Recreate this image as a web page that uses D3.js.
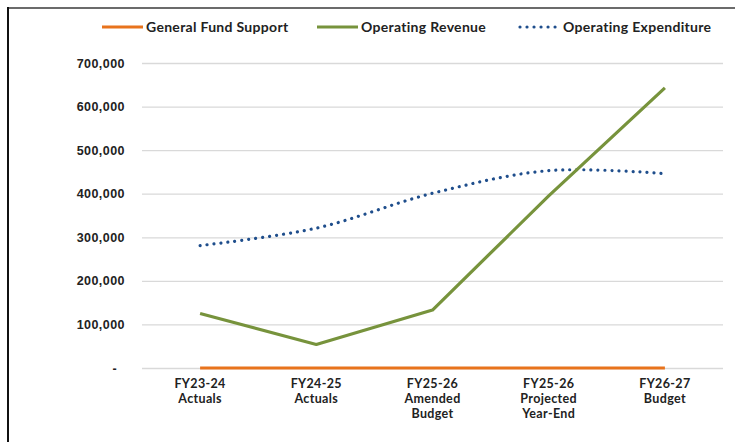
<!DOCTYPE html>
<html>
<head>
<meta charset="utf-8">
<script src="https://cdn.jsdelivr.net/npm/d3@7"></script>
<style>
  body { margin: 0; background: #fff; }
  svg { display: block; font-family: Lato, "Open Sans", sans-serif; font-weight: 700; }
</style>
</head>
<body>
<svg id="chart" width="735" height="442"></svg>
<script>
// data
let categories = [
  ['FY23-24', 'Actuals'],
  ['FY24-25', 'Actuals'],
  ['FY25-26', 'Amended', 'Budget'],
  ['FY25-26', 'Projected', 'Year-End'],
  ['FY26-27', 'Budget']
];
let generalFund = [0, 0, 0, 0, 0];
let operatingRevenue = [125000, 54000, 133000, 395000, 643000];
let operatingExpenditure = [281000, 321000, 401000, 453000, 446000];
let yTicks = [0, 100000, 200000, 300000, 400000, 500000, 600000, 700000];

let seriesNames = ['General Fund Support', 'Operating Revenue', 'Operating Expenditure'];
let colors = ['#E8731C', '#77933C', '#1F4E8C'];

let svg = d3.select('#chart');

// frame
svg.append('line').attr('x1', 8).attr('x2', 735).attr('y1', 8).attr('y2', 8)
  .attr('stroke', '#6b6b6b').attr('stroke-width', 2);
svg.append('line').attr('x1', 8).attr('x2', 8).attr('y1', 7).attr('y2', 442)
  .attr('stroke', '#111').attr('stroke-width', 2);

let keys = categories.map(function(d, i) { return 'c' + i; });

let xScale = d3.scaleBand()
  .domain(keys)
  .range([142, 723]);

let yScale = d3.scaleLinear()
  .domain([0, 700000])
  .range([368, 63]);

let xPos = function(i) { return xScale(keys[i]) + xScale.bandwidth() / 2; };

// gridlines + y labels
let yAxis = d3.axisLeft(yScale)
  .tickValues(yTicks)
  .tickSize(-(723 - 142))
  .tickPadding(17)
  .tickFormat(function(d) { return d === 0 ? '-' : d3.format(',')(d); });

let gy = svg.append('g')
  .attr('transform', 'translate(142,0)')
  .call(yAxis);
gy.select('.domain').remove();
gy.selectAll('.tick line').attr('stroke', '#d9d9d9').attr('stroke-width', 1.3);
gy.selectAll('.tick text')
  .attr('fill', '#222')
  .style('font-size', '12.5px')
  .style('letter-spacing', '0.45px')
  .attr('dx', function(d) { return d === 0 ? -8 : 0; });

// x axis labels
let gx = svg.append('g');
categories.forEach(function(lines, i) {
  let t = gx.append('text')
    .attr('x', xPos(i))
    .attr('y', 388)
    .attr('text-anchor', 'middle')
    .attr('fill', '#222')
    .style('font-size', '12.5px')
    .style('letter-spacing', '0.35px');
  lines.forEach(function(s, j) {
    t.append('tspan').attr('x', xPos(i)).attr('dy', j === 0 ? 0 : 14.8).text(s);
  });
});

// lines
let straight = d3.line()
  .x(function(d, i) { return xPos(i); })
  .y(function(d) { return yScale(d); });

let smooth = d3.line()
  .x(function(d, i) { return xPos(i); })
  .y(function(d) { return yScale(d); })
  .curve(d3.curveCatmullRom.alpha(0.5));

svg.append('path')
  .datum(operatingExpenditure)
  .attr('fill', 'none')
  .attr('stroke', colors[2])
  .attr('stroke-width', 3.2)
  .attr('stroke-linecap', 'round')
  .attr('stroke-dasharray', '0.01 7')
  .attr('d', smooth);

svg.append('path')
  .datum(operatingRevenue)
  .attr('fill', 'none')
  .attr('stroke', colors[1])
  .attr('stroke-width', 3.2)
  .attr('stroke-linejoin', 'round')
  .attr('d', straight);

svg.append('path')
  .datum(generalFund)
  .attr('fill', 'none')
  .attr('stroke', colors[0])
  .attr('stroke-width', 3.2)
  .attr('d', straight);

// legend
let legendX = [102, 317, 519];
let legend = svg.append('g').attr('transform', 'translate(0,27)');
seriesNames.forEach(function(name, i) {
  let g = legend.append('g').attr('transform', 'translate(' + legendX[i] + ',0)');
  let ln = g.append('line')
    .attr('x1', 0).attr('x2', 41)
    .attr('stroke', colors[i])
    .attr('stroke-width', 3.2);
  if (i === 2) {
    ln.attr('stroke-dasharray', '0.01 7').attr('stroke-linecap', 'round')
      .attr('x1', 1).attr('x2', 40);
  }
  g.append('text')
    .attr('x', 44)
    .attr('y', 0)
    .attr('dy', '0.35em')
    .attr('fill', '#222')
    .style('font-size', '14px')
    .style('letter-spacing', '0.3px')
    .text(name);
});
</script>
</body>
</html>
